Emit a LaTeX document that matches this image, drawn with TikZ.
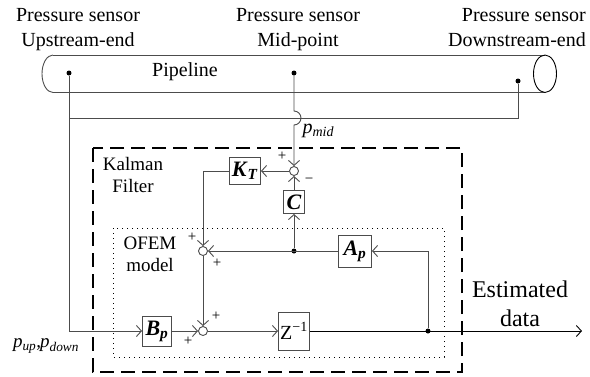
\documentclass[tikz,border=0pt]{standalone}
\usepackage{fontspec}
\setmainfont{Liberation Serif}
\usetikzlibrary{arrows.meta}
\newcommand{\bvar}[2]{\textbf{\textit{#1}}\textsubscript{\textbf{\textit{#2}}}}
\begin{document}
\begin{tikzpicture}[x=1pt,y=-1pt,
    >={Straight Barb[length=5pt,width=11pt]},
    wire/.style={draw=black!70,line width=0.9pt},
    blk/.style={draw=black!70,line width=0.9pt,inner sep=0pt,font=\fontsize{22}{24}\selectfont},
    sumj/.style={circle,draw=black!70,line width=0.9pt,inner sep=0pt,minimum size=9pt},
    jdot/.style={circle,fill=black,inner sep=0pt,minimum size=5pt},
    sgn/.style={inner sep=0pt,font=\fontsize{15}{15}\selectfont},
    dsh/.style={line width=2pt,dash pattern=on 14pt off 7pt},
    dotbox/.style={line width=1pt,dash pattern=on 1pt off 4pt},
    every node/.style={font=\fontsize{20}{24}\selectfont}]
  \useasboundingbox (0,0) rectangle (590,376);
  % the pipeline
  \draw[wire] (53,55) -- (545,55) (53,92.5) -- (545,92.5);
  \draw[wire] (53,55) arc[start angle=-90,end angle=-270,x radius=11,y radius=18.75];
  \draw[line width=0.9pt] (545,73.75) ellipse[x radius=11.5,y radius=18.75];
  \node (pl) at (185,72) {Pipeline};
  \node[align=center,anchor=north,inner sep=0pt,font=\fontsize{20}{25}\selectfont] (su) at (78,8) {Pressure sensor\\Upstream-end};
  \node[align=center,anchor=north,inner sep=0pt,font=\fontsize{20}{25}\selectfont] (sm) at (298,8) {Pressure sensor\\Mid-point};
  \node[align=right,anchor=north east,inner sep=0pt,font=\fontsize{20}{25}\selectfont] (sd) at (586,8) {Pressure sensor\\Downstream-end};
  \node[jdot] (up) at (69,73) {};
  \node[jdot] (mid) at (294,73) {};
  \node[jdot] (dn) at (518,81) {};
  \coordinate (tee) at (69,118);
  \coordinate (hop) at (294,111);
  % the filter
  \draw[dsh] (93,148) rectangle (462,372);
  \draw[dotbox] (113,228) rectangle (444,357);
  \node[align=center,font=\fontsize{19}{22}\selectfont] (kf) at (133,175) {Kalman\\Filter};
  \node[align=center,font=\fontsize{19}{22}\selectfont] (om) at (150,254) {OFEM\\model};
  \node[sumj] (s1) at (294,171) {};
  \node[blk,minimum width=21pt,minimum height=23pt] (C) at (294,202) {\textbf{\textit{C}}};
  \node[blk,minimum width=31pt,minimum height=27pt] (KT) at (245,171) {\bvar{K}{T}};
  \node[sumj] (s2) at (203,251) {};
  \node[jdot] (j1) at (294,251) {};
  \node[blk,minimum width=33pt,minimum height=32pt] (Ap) at (355,251) {\bvar{A}{p}};
  \node[sumj] (s3) at (203,331) {};
  \node[blk,minimum width=29pt,minimum height=30pt] (Bp) at (157,331) {\bvar{B}{p}};
  \node[blk,minimum width=31pt,minimum height=38pt,font=\fontsize{20}{22}\selectfont] (Z) at (294,331) {Z\textsuperscript{−1}};
  \node[jdot] (j2) at (428,331) {};
  \coordinate (out) at (582,331);
  \node[sgn] (g1) at (282,156) {+};
  \node[sgn] (g2) at (309,181) {−};
  \node[sgn] (g3) at (192,237) {+};
  \node[sgn] (g4) at (217,263) {+};
  \node[sgn] (g5) at (216,316) {+};
  \node[sgn] (g6) at (188,341) {+};
  \node[anchor=west] (pm) at (299,131) {\textit{p}\textsubscript{\textit{mid}}};
  \node[font=\fontsize{19}{22}\selectfont] (pin) at (46,346) {\textit{p}\textsubscript{\textit{up}},\kern-1pt\textit{p}\textsubscript{\textit{down}}};
  \node[align=center,font=\fontsize{24}{29}\selectfont] (est) at (520,304) {Estimated\\data};
  % connectors
  \draw[wire] (dn) |- (tee);
  \draw[wire,->] (up) |- (Bp);
  \draw[wire,->] (mid) -- (hop) arc[start angle=-90,end angle=90,radius=7] -- (s1);
  \draw[wire,->] (j1) -- (C);
  \draw[wire,->] (C) -- (s1);
  \draw[wire,->] (s1) -- (KT);
  \draw[wire,->] (KT) -| (s2);
  \draw[wire,->] (Ap) -- (s2);
  \draw[wire,->] (j2) |- (Ap);
  \draw[wire,->] (s2) -- (s3);
  \draw[wire,->] (Bp) -- (s3);
  \draw[wire,->] (s3) -- (Z);
  \draw[line width=0.9pt,->] (Z) -- (out);
\end{tikzpicture}
\end{document}
